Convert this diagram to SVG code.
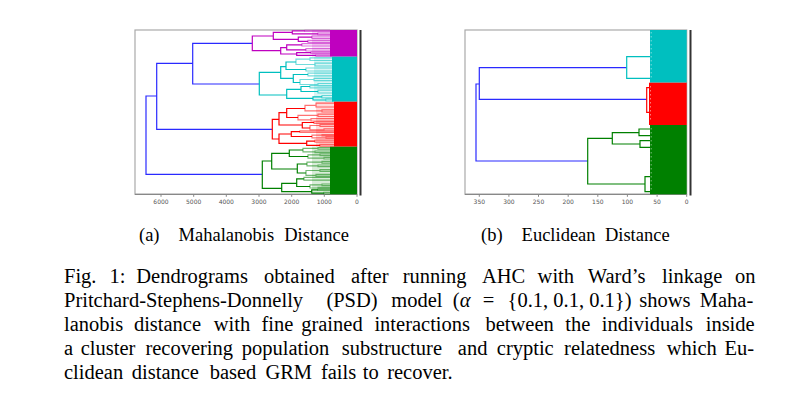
<svg xmlns="http://www.w3.org/2000/svg" width="801" height="405" viewBox="0 0 801 405">
<style>
.ln{fill:none;stroke-width:1.2}
.lt{opacity:.55}
.m{stroke:#bf00bf}.c{stroke:#00bfbf}.r{stroke:#ff0000}.g{stroke:#008000}.b{stroke:#2a2aff}
.fm{fill:#bf00bf}.fc{fill:#00bfbf}.fr{fill:#ff0000}.fg{fill:#008000}
.frame{fill:none;stroke:#aaa;stroke-width:1.2}
.axis{stroke:#888;stroke-width:1.2}
.tick{stroke:#888;stroke-width:1}
.bar{stroke:#333;stroke-width:2}
.tl{font-family:"DejaVu Sans",sans-serif;font-size:6px;fill:#555;text-anchor:middle}
.cap{font-family:"Liberation Serif",serif;font-size:20.5px;fill:#000}
.sub{font-family:"Liberation Serif",serif;font-size:18.5px;fill:#000}
</style>
<rect width="801" height="405" fill="#fff"/>

<g id="panel-a">
  <rect class="frame" x="135" y="30" width="222" height="164.3"/>
  <line class="axis" x1="135" y1="194.3" x2="357" y2="194.3"/>
  <g id="fill-a">
    <rect class="fm" x="312" y="30" width="18" height="26.7" opacity="0.15"/>
    <rect class="fc" x="314" y="56.7" width="18" height="45" opacity="0.15"/>
    <rect class="fr" x="316" y="101.7" width="18" height="45" opacity="0.15"/>
    <rect class="fg" x="312" y="146.7" width="18" height="47.6" opacity="0.15"/>
    <rect class="fm" x="330" y="30" width="27" height="26.7"/>
    <rect class="fc" x="332" y="56.7" width="25" height="45"/>
    <rect class="fr" x="334" y="101.7" width="23" height="45"/>
    <rect class="fg" x="330" y="146.7" width="27" height="47.6"/>
  </g>
  <g id="links-a">
    <path class="ln b" d="M156.7 96 H146 V174.3 H262.3 M192.7 63.3 H156.7 V129.3 H272.3 M252.3 43.3 H192.7 V84 H259.3"/>
    <path class="ln m" d="M273.3 36 H252.3 V50.7 H280.7 M292.3 32.3 H273.3 V39.3 H298.3 M286.7 47.7 H280.7 V54 H296.7 M305 30.8 H292.3 V33.8 H318 M312 37.2 H298.3 V41.3 H308 M302 44.8 H286.7 V49.8 H306 M311 52.6 H296.7 V55.4 H316"/>
    <path class="ln m lt" d="M330 30.3 H305 V31.5 H330 M330 33 H318 V34.6 H330 M330 36 H312 V38.4 H330 M330 40.4 H308 V42.3 H330 M330 43.6 H302 V46 H330 M330 48.6 H306 V51 H330 M330 52 H311 V53.3 H330 M330 54.8 H316 V56.1 H330"/>
    <path class="ln c" d="M280.7 72.3 H259.3 V95 H286.7 M286 66.7 H280.7 V78.3 H293.3 M301 89.3 H286.7 V98.3 H313 M296 62 H286 V69.5 H306 M308 74.5 H293.3 V82.5 H300 M310 86.5 H301 V91.5 H318 M322 96.8 H313 V100 H326"/>
    <path class="ln c lt" d="M310 59.2 H296 V64.5 H315 M333 57.8 H310 V60.5 H333 M333 63.2 H315 V66 H333 M333 68 H306 V71 H333 M333 73.2 H308 V75.8 H333 M314 79.5 H300 V84.5 H318 M333 78.3 H314 V80.7 H333 M333 83.5 H318 V85.8 H333 M333 85.6 H310 V87.8 H333 M333 90.2 H318 V93 H333 M333 95.5 H322 V97.8 H333 M333 99.2 H326 V101 H333"/>
    <path class="ln r" d="M279 119.3 H272.3 V139 H279 M286.7 112.7 H279 V125 H302.3 M291.3 134 H279 V143.3 H306.7 M305 108.5 H286.7 V117.5 H298 M314 122.5 H302.3 V128 H310 M300 131.6 H291.3 V136.5 H312 M315 141.2 H306.7 V145.3 H320"/>
    <path class="ln r lt" d="M316 105.3 H305 V110.8 H322 M334 103.2 H316 V107 H334 M334 109.8 H322 V112 H334 M318 115.3 H298 V119.8 H311 M334 114.2 H318 V116.5 H334 M334 118.6 H311 V121 H334 M334 121.8 H314 V123.5 H334 M320 125.5 H310 V129.8 H324 M334 124.7 H320 V126.5 H334 M334 128.8 H324 V130.8 H334 M334 130.9 H300 V132.4 H334 M322 135.2 H312 V137.8 H326 M334 134.6 H322 V135.9 H334 M334 137.2 H326 V138.5 H334 M334 140.2 H315 V142.2 H334 M334 144.4 H320 V146.2 H334"/>
    <path class="ln g" d="M271.7 161 H262.3 V188.3 H281.7 M289.3 153.3 H271.7 V169 H297.3 M296.7 183.3 H281.7 V191.7 H311.7 M303 150 H289.3 V156.5 H308 M307 164 H297.3 V173 H306 M304 178.8 H296.7 V186.5 H310 M318 189.8 H311.7 V193.2 H324"/>
    <path class="ln g lt" d="M318 148.3 H303 V151.8 H315 M330 147.5 H318 V149.2 H330 M330 151 H315 V152.6 H330 M320 154.8 H308 V158.2 H324 M330 154 H320 V155.6 H330 M330 157.4 H324 V159 H330 M322 162.2 H307 V165.8 H318 M330 161.3 H322 V163.1 H330 M330 165 H318 V166.6 H330 M320 170.5 H306 V175.3 H316 M330 169.6 H320 V171.4 H330 M330 174.4 H316 V176.2 H330 M330 177.3 H304 V180.2 H330 M322 184.8 H310 V188 H318 M330 184 H322 V185.6 H330 M330 187.3 H318 V188.7 H330 M330 189.3 H318 V190.5 H330 M330 192.4 H324 V194 H330"/>
  </g>
  <line class="bar" x1="360.5" y1="30" x2="360.5" y2="195.5"/>
  <g id="ticks-a">
    <path class="tick" d="M161 194.3 v2.5 M193.7 194.3 v2.5 M226.3 194.3 v2.5 M259 194.3 v2.5 M291.7 194.3 v2.5 M324.3 194.3 v2.5 M357 194.3 v2.5"/>
    <text class="tl" x="161" y="204">6000</text>
    <text class="tl" x="193.7" y="204">5000</text>
    <text class="tl" x="226.3" y="204">4000</text>
    <text class="tl" x="259" y="204">3000</text>
    <text class="tl" x="291.7" y="204">2000</text>
    <text class="tl" x="324.3" y="204">1000</text>
    <text class="tl" x="357" y="204">0</text>
  </g>
</g>

<g id="panel-b">
  <rect class="frame" x="465" y="30" width="221.7" height="164.3"/>
  <line class="axis" x1="465" y1="194.3" x2="686.7" y2="194.3"/>
  <g id="fill-b">
    <rect class="fc" x="650" y="30" width="36.7" height="52.7"/>
    <rect class="fr" x="649" y="82.7" width="37.7" height="42.3"/>
    <rect class="fg" x="650" y="125" width="36.7" height="69.3"/>
    <path d="M651.2 32 V80 M650.5 86 V122 M651.2 128 V192" stroke="#fff" stroke-width="0.8" stroke-dasharray="1.5 2.5" opacity="0.6"/>
  </g>
  <g id="links-b">
    <path class="ln b" d="M479.3 84 H476 V161 H587.7 M626.7 67.7 H479.3 V99.3 H646.7"/>
    <path class="ln c" d="M650 56.7 H626.7 V78.3 H650"/>
    <path class="ln r" d="M650 87.7 H646.7 V112.3 H650"/>
    <path class="ln g" d="M612.3 138.3 H587.7 V184 H645 M639 132.7 H612.3 V144 H640 M650 129 H639 V135.7 H650 M650 140.7 H640 V147.3 H650 M650 176.7 H645 V191.7 H650"/>
  </g>
  <line class="bar" x1="690.5" y1="30" x2="690.5" y2="195.5"/>
  <g id="ticks-b">
    <path class="tick" d="M479.3 194.3 v2.5 M508.9 194.3 v2.5 M538.5 194.3 v2.5 M568.2 194.3 v2.5 M597.8 194.3 v2.5 M627.4 194.3 v2.5 M657.1 194.3 v2.5 M686.7 194.3 v2.5"/>
    <text class="tl" x="479.3" y="204">350</text>
    <text class="tl" x="508.9" y="204">300</text>
    <text class="tl" x="538.5" y="204">250</text>
    <text class="tl" x="568.2" y="204">200</text>
    <text class="tl" x="597.8" y="204">150</text>
    <text class="tl" x="627.4" y="204">100</text>
    <text class="tl" x="657.1" y="204">50</text>
    <text class="tl" x="686.7" y="204">0</text>
  </g>
</g>

<g id="subcaptions">
  <text class="sub" y="240.5"><tspan x="139">(a)</tspan><tspan x="178.6">Mahalanobis</tspan><tspan x="284.2">Distance</tspan></text>
  <text class="sub" y="240.5"><tspan x="481">(b)</tspan><tspan x="521.6">Euclidean</tspan><tspan x="604.9">Distance</tspan></text>
</g>

<g id="caption">
  <text class="cap" y="283"><tspan x="64">Fig.</tspan><tspan x="109.4">1:</tspan><tspan x="136.3">Dendrograms</tspan><tspan x="264.1">obtained</tspan><tspan x="351">after</tspan><tspan x="402.8">running</tspan><tspan x="481.9">AHC</tspan><tspan x="537.6">with</tspan><tspan x="587.8">Ward’s</tspan><tspan x="662">linkage</tspan><tspan x="734.9">on</tspan></text>
  <text class="cap" y="307"><tspan x="64">Pritchard-Stephens-Donnelly</tspan><tspan x="326.4">(PSD)</tspan><tspan x="391.3">model</tspan><tspan x="452.8">(</tspan><tspan font-style="italic">α</tspan><tspan x="482.7">=</tspan><tspan x="507.6">{0.1, 0.1, 0.1})</tspan><tspan x="639.2">shows</tspan><tspan x="699.8">Maha-</tspan></text>
  <text class="cap" y="331"><tspan x="64">lanobis</tspan><tspan x="133.9">distance</tspan><tspan x="213.8">with</tspan><tspan x="261.4">fine</tspan><tspan x="301.2">grained</tspan><tspan x="374.4">interactions</tspan><tspan x="485.5">between</tspan><tspan x="565.3">the</tspan><tspan x="601.8">individuals</tspan><tspan x="705.7">inside</tspan></text>
  <text class="cap" y="355"><tspan x="64">a</tspan><tspan x="80.7">cluster</tspan><tspan x="145.4">recovering</tspan><tspan x="241.7">population</tspan><tspan x="341.8">substructure</tspan><tspan x="457.8">and</tspan><tspan x="496.8">cryptic</tspan><tspan x="564.1">relatedness</tspan><tspan x="666.7">which</tspan><tspan x="724.5">Eu-</tspan></text>
  <text class="cap" y="379"><tspan x="64">clidean</tspan><tspan x="131.8">distance</tspan><tspan x="209.7">based</tspan><tspan x="265.4">GRM</tspan><tspan x="320.9">fails</tspan><tspan x="362.7">to</tspan><tspan x="387.2">recover.</tspan></text>
</g>
</svg>
